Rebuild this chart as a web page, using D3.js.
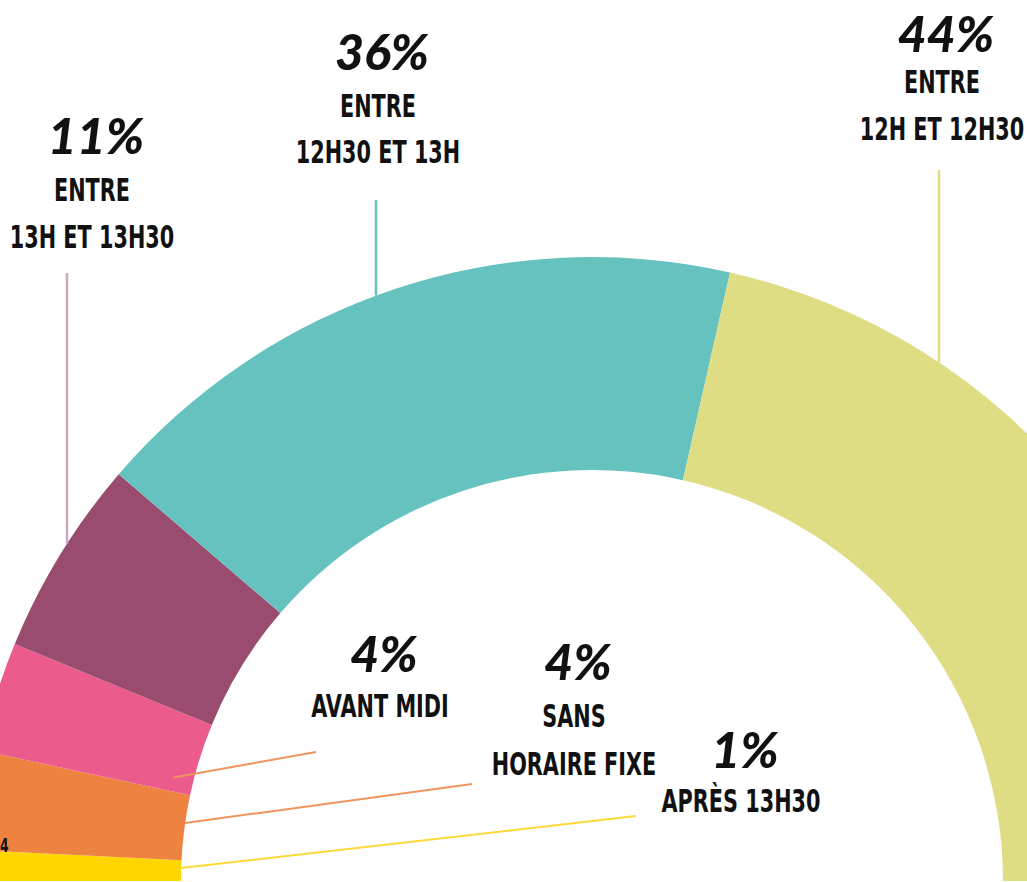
<!DOCTYPE html>
<html lang="fr">
<head>
<meta charset="UTF-8">
<title>Heure du déjeuner</title>
<script src="https://d3js.org/d3.v7.min.js"></script>
<style>
    body { margin: 0; background: #fff; }
    .pct {
        font-family: "Lato", "Open Sans", sans-serif;
        font-style: italic;
        font-weight: 900;
        font-size: 50px;
        fill: #111;
        text-anchor: middle;
    }
    .lbl {
        font-family: "DejaVu Sans", sans-serif;
        font-weight: 700;
        font-size: 32px;
        fill: #111;
        text-anchor: middle;
    }
</style>
</head>
<body>
<svg id="chart"></svg>
<script>
    // slices from left to right, in drawing order
    const categories = ["APRÈS 13H30", "SANS HORAIRE FIXE", "AVANT MIDI", "ENTRE 13H ET 13H30", "ENTRE 12H30 ET 13H", "ENTRE 12H ET 12H30"];
    const labelRows = [["APRÈS 13H30"], ["SANS", "HORAIRE FIXE"], ["AVANT MIDI"], ["ENTRE", "13H ET 13H30"], ["ENTRE", "12H30 ET 13H"], ["ENTRE", "12H ET 12H30"]];
    const percentLabels = ["1%", "4%", "4%", "11%", "36%", "44%"];
    // share of the half ring each slice takes, as measured on the picture
    const shares = [1.6, 5.1, 5.7, 10.2, 34.5, 42.9];
    const colors = ["#FFD600", "#EE8241", "#EB5C8C", "#994C6E", "#66C2BF", "#DEDD84"];
    const lineColors = ["#FFD83A", "#F0955F", "#F0955F", "#CFA6BE", "#66C2BF", "#DEDD84"];

    const width = 1027, height = 882;
    const cx = 592, cy = 881;
    const rInner = 411, rOuter = 624;
    const squeeze = 0.65; // condensed look for the label font

    // label placement (layout only)
    const layout = [
        { x: 741, pct: 768, rows: [812], end: [636, 816], rStart: 411, frac: 0.63 },
        { x: 574, pct: 680, rows: [727, 775], end: [472, 784], rStart: 411, frac: 0.57 },
        { x: 380, pct: 672, rows: [717], end: [316, 752], rStart: 431, frac: 0.18 },
        { x: 92, pct: 154, rows: [201, 248], vx: 67, top: 273 },
        { x: 378, pct: 70, rows: [117, 163], vx: 376, top: 200 },
        { x: 942, pct: 52, rows: [93, 140], vx: 939, top: 170 }
    ];

    const svg = d3.select('#chart')
        .attr('width', width)
        .attr('height', height);

    const data = categories.map((c, i) => ({ name: c, value: shares[i], i: i }));

    const pie = d3.pie()
        .sort(null)
        .value(d => d.value)
        .startAngle(-Math.PI / 2)
        .endAngle(Math.PI / 2);

    const arcs = pie(data);

    const arc = d3.arc()
        .innerRadius(rInner)
        .outerRadius(rOuter);

    const g = svg.append('g')
        .attr('transform', `translate(${cx},${cy})`);

    // vertical leaders above the ring (drawn first, they stop at the outer edge)
    arcs.filter(a => layout[a.data.i].vx !== undefined).forEach(a => {
        const l = layout[a.data.i];
        const dx = l.vx - cx;
        const yEdge = cy - Math.sqrt(rOuter * rOuter - dx * dx);
        svg.append('line')
            .attr('x1', l.vx).attr('x2', l.vx)
            .attr('y1', l.top).attr('y2', yEdge)
            .attr('stroke', lineColors[a.data.i])
            .attr('stroke-width', 2.5);
    });

    g.selectAll('path.slice')
        .data(arcs)
        .enter().append('path')
        .attr('class', 'slice')
        .attr('d', arc)
        .attr('fill', d => colors[d.data.i]);

    // leaders from the inner edge towards the labels inside the ring
    arcs.filter(a => layout[a.data.i].end !== undefined).forEach(a => {
        const l = layout[a.data.i];
        const ang = a.startAngle + (a.endAngle - a.startAngle) * l.frac;
        const x1 = cx + l.rStart * Math.sin(ang);
        const y1 = cy - l.rStart * Math.cos(ang);
        svg.append('line')
            .attr('x1', x1).attr('y1', y1)
            .attr('x2', l.end[0]).attr('y2', l.end[1])
            .attr('stroke', lineColors[a.data.i])
            .attr('stroke-width', 2);
    });

    // labels
    data.forEach(d => {
        const l = layout[d.i];
        svg.append('text')
            .attr('class', 'pct')
            .attr('x', l.x + 4)
            .attr('y', l.pct)
            .text(percentLabels[d.i]);
        labelRows[d.i].forEach((row, k) => {
            svg.append('text')
                .attr('class', 'lbl')
                .attr('transform', `translate(${l.x},${l.rows[k]}) scale(${squeeze},1)`)
                .text(row);
        });
    });

    // cut-off number at the left edge
    svg.append('text')
        .attr('class', 'lbl')
        .attr('transform', `translate(0,852) scale(${squeeze},1)`)
        .style('text-anchor', 'start')
        .style('font-size', '19px')
        .text('4');
</script>
</body>
</html>
